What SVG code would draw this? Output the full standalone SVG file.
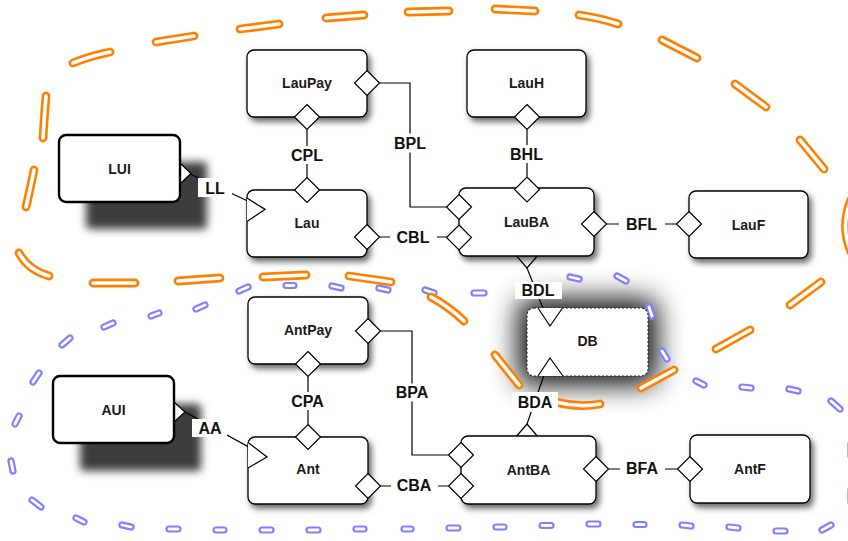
<svg xmlns="http://www.w3.org/2000/svg" width="848" height="541" viewBox="0 0 848 541">
<defs>
<style>
.box{fill:#fff;stroke:#000;stroke-width:1.3}
.ui{fill:#fff;stroke:#000;stroke-width:2.4}
.db{fill:#fff;stroke:#222;stroke-width:1.1;stroke-dasharray:2 2}
.nt{font-family:"Liberation Sans",Arial,sans-serif;font-weight:bold;font-size:14px;fill:#1a1a1a;text-anchor:middle}
.lt{font-family:"Liberation Sans",Arial,sans-serif;font-weight:bold;font-size:16px;fill:#111;text-anchor:middle}
.ln{fill:none;stroke:#000;stroke-width:1.2}
.dm{fill:#fff;stroke:#000;stroke-width:1.2;stroke-linejoin:miter}
.lb{fill:#fff}
.oo{fill:none;stroke:#ff8000;stroke-width:8.8;stroke-linecap:round}
.oi{fill:none;stroke:#fff;stroke-width:3.6;stroke-linecap:round}
.bo{fill:none;stroke:#8080ff;stroke-width:7.2;stroke-linecap:round}
.bi{fill:none;stroke:#fff;stroke-width:2.8;stroke-linecap:round}
.sh{filter:url(#ds)}
</style>
<filter id="ds" x="-20%" y="-20%" width="150%" height="170%"><feDropShadow dx="3" dy="4" stdDeviation="3" flood-color="#000" flood-opacity="0.6"/></filter>
<filter id="bl" x="-25%" y="-40%" width="150%" height="180%"><feGaussianBlur stdDeviation="4"/></filter>
<filter id="gl" x="-70%" y="-110%" width="240%" height="320%"><feGaussianBlur stdDeviation="14"/></filter>
<path id="dia" d="M0,-12.5 L12.5,0 L0,12.5 L-12.5,0Z"/>
<path id="orange" d="M46,96 Q44,120 43,138 M73,63 Q90,56 110,52 M156,42 L194,36 M240,29 L279,24 M326,18 L364,15 M408,12 L449,11 M495,9 L535,11 M579,15 Q600,18 618,24 M662,40 L697,58 M735,84 L766,107 M800,140 L824,169 M851,200 Q840,226 851,252 M790,305 L821,282 M716,349 L750,330 M641,388 L674,370 M556,402 Q578,408 600,404 M495,355 L519,385 M431,297 Q448,306 464,321 M349,276 L391,282 M263,277 L306,275 M178,281 L220,278 M93,283 L135,283 M19,253 Q28,270 49,276 M34,170 Q30,190 26,207"/>
<path id="blue" d="M62,345 L70,338 M104,327 L113,323 M151,316 L159,313 M196,309 L205,305 M239,291 L248,287 M286,285.5 L294,285.5 M332,286 L341,288 M379,288 L388,290 M425,290 L434,293 M474,293 L484,293 M570,277 L579,279 M617,276 L626,281 M649,307 L652,316 M662,351 L667,359 M696,381 L704,385 M742,387 L751,388 M789,389 L798,391 M831,401 L840,409 M851,444 L851,456 M851,490 L851,502 M822,530 L831,525 M776,531 L785,531 M729,527 L738,528 M682,525 L691,526 M636,524.5 L644,524.5 M589,524 L598,524 M542,525.5 L551,525.5 M496,527 L504,527 M449,528 L458,528 M404,529 L411,529 M356,529 L364,529 M309,530 L318,530 M262,530 L271,530 M216,530 L224,530 M169,529 L178,529 M122,525 L131,527 M76,518 L84,522 M32,500 L41,507 M11,461 L13,471 M15,424 L19,416 M33,382 L39,373"/>
</defs>
<rect width="848" height="541" fill="#fff"/>

<g id="db-glow">
<rect x="518" y="299" width="139" height="86" rx="10" fill="#000" opacity="0.95" filter="url(#gl)"/>
</g>

<g id="loops">
<g id="blue-loop"><use href="#blue" class="bo"/><use href="#blue" class="bi"/></g>
<g id="orange-loop"><use href="#orange" class="oo"/><use href="#orange" class="oi"/></g>
</g>

<g id="nodes">
<g id="LauPay"><rect class="box sh" x="247" y="50" width="120" height="67" rx="7"/><text class="nt" x="307" y="88">LauPay</text></g>
<g id="LauH"><rect class="box sh" x="467" y="50" width="119" height="67" rx="7"/><text class="nt" x="526.5" y="88">LauH</text></g>
<g id="LUI"><rect x="86" y="162" width="121" height="67" rx="4" fill="#3c3c3c" filter="url(#bl)"/><path class="dm" d="M180,163 L191,173.5 L180,184Z"/><rect class="ui" x="59" y="135" width="121" height="67" rx="7"/><text class="nt" x="119.5" y="173.5">LUI</text></g>
<g id="Lau"><rect class="box sh" x="247" y="190" width="120" height="67" rx="7"/><text class="nt" x="307" y="228">Lau</text></g>
<g id="LauBA"><path class="dm" d="M515,254 L527,268 L539,254"/><rect class="box sh" x="459" y="188" width="135" height="68" rx="7"/><text class="nt" x="526.5" y="227">LauBA</text></g>
<g id="LauF"><rect class="box sh" x="689" y="191" width="119" height="67" rx="7"/><text class="nt" x="748.5" y="229.5">LauF</text></g>
<g id="DB"><rect class="db" x="527" y="308" width="121" height="68" rx="7"/><text class="nt" x="587.5" y="346">DB</text></g>
<g id="AntPay"><rect class="box sh" x="248" y="297" width="120" height="67" rx="7"/><text class="nt" x="308" y="334.5">AntPay</text></g>
<g id="AUI"><rect x="80" y="404" width="121" height="67" rx="4" fill="#3c3c3c" filter="url(#bl)"/><path class="dm" d="M174,402 L185,412 L174,422Z"/><rect class="ui" x="53" y="376" width="121" height="67" rx="7"/><text class="nt" x="113.5" y="414.5">AUI</text></g>
<g id="Ant"><rect class="box sh" x="248" y="437" width="120" height="67" rx="7"/><text class="nt" x="308" y="474">Ant</text></g>
<g id="AntBA"><path class="dm" d="M515,438 L527,424 L539,438"/><rect class="box sh" x="461" y="436" width="135" height="68" rx="7"/><text class="nt" x="528.5" y="475">AntBA</text></g>
<g id="AntF"><rect class="box sh" x="690" y="435" width="120" height="68" rx="7"/><text class="nt" x="750" y="474">AntF</text></g>
</g>

<g id="connectors">
<path class="ln" d="M307,129.5 L307,177.5"/>
<path class="ln" d="M379.5,83 L410,83 L410,207 L446.5,207"/>
<path class="ln" d="M379.5,237 L446.5,237"/>
<path class="ln" d="M527,129.5 L527,176.5"/>
<path class="ln" d="M606.5,224 L676.5,224"/>
<path class="ln" d="M190,174 L265,209"/>
<path class="ln" d="M527,268 L550,326"/>
<path class="ln" d="M527,424 L550,358"/>
<path class="ln" d="M308,376.5 L308,424.5"/>
<path class="ln" d="M380.5,331 L412,331 L412,455 L448.5,455"/>
<path class="ln" d="M380.5,486 L448.5,486"/>
<path class="ln" d="M608.5,469 L677.5,469"/>
<path class="ln" d="M185,412 L267,457"/>

<use href="#dia" class="dm" x="367" y="83"/>
<use href="#dia" class="dm" x="307" y="117"/>
<use href="#dia" class="dm" x="307" y="190"/>
<use href="#dia" class="dm" x="367" y="237"/>
<use href="#dia" class="dm" x="527" y="117"/>
<use href="#dia" class="dm" x="527" y="189.5"/>
<use href="#dia" class="dm" x="459" y="207"/>
<use href="#dia" class="dm" x="459" y="237.5"/>
<use href="#dia" class="dm" x="594" y="224"/>
<use href="#dia" class="dm" x="689" y="224"/>
<use href="#dia" class="dm" x="368" y="331"/>
<use href="#dia" class="dm" x="308" y="364"/>
<use href="#dia" class="dm" x="308" y="437"/>
<use href="#dia" class="dm" x="368" y="486"/>
<use href="#dia" class="dm" x="461" y="455"/>
<use href="#dia" class="dm" x="461" y="486"/>
<use href="#dia" class="dm" x="596" y="469"/>
<use href="#dia" class="dm" x="690" y="469"/>

<path class="dm" d="M247,198 L265,209.5 L247,221.5"/>
<path class="dm" d="M248,442.5 L267,457 L248,468"/>
<path class="dm" d="M538,308 L550,326 L562.5,308"/>
<path class="dm" d="M538,376 L550,358 L563,376"/>

<rect class="lb" x="288" y="146" width="38" height="18"/><text class="lt" x="307" y="160.7">CPL</text>
<rect class="lb" x="389" y="133.5" width="42" height="19"/><text class="lt" x="410" y="148.5">BPL</text>
<rect class="lb" x="390" y="228" width="47" height="18"/><text class="lt" x="413" y="242.5">CBL</text>
<rect class="lb" x="506" y="145" width="41" height="18"/><text class="lt" x="526.5" y="159.7">BHL</text>
<rect class="lb" x="619" y="215" width="46" height="18"/><text class="lt" x="641.5" y="229.7">BFL</text>
<rect class="lb" x="198" y="178" width="34" height="19"/><text class="lt" x="215" y="193.5">LL</text>
<rect class="lb" x="515" y="282" width="47" height="17"/><text class="lt" x="538" y="296.3">BDL</text>
<rect class="lb" x="512" y="392" width="46" height="20"/><text class="lt" x="535" y="407.5">BDA</text>
<rect class="lb" x="288" y="392" width="40" height="18"/><text class="lt" x="307.5" y="406.8">CPA</text>
<rect class="lb" x="390" y="383.5" width="44" height="18"/><text class="lt" x="412" y="398.3">BPA</text>
<rect class="lb" x="391" y="476" width="47" height="18"/><text class="lt" x="414" y="490.8">CBA</text>
<rect class="lb" x="620" y="459.5" width="45" height="18"/><text class="lt" x="642" y="474.3">BFA</text>
<rect class="lb" x="192" y="419" width="35" height="18"/><text class="lt" x="210" y="433.5">AA</text>
</g>
</svg>
